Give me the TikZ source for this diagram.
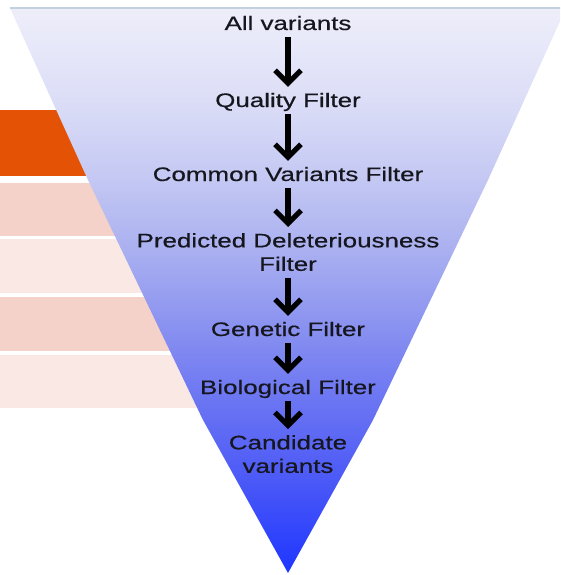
\documentclass[tikz,border=0pt]{standalone}
\usepackage{fontspec}
\setmainfont[FakeStretch=1.33,FakeBold=0.5]{Liberation Sans}
\usetikzlibrary{arrows.meta}
\definecolor{orangebar}{HTML}{E35205}
\definecolor{pinkbar}{HTML}{F4D1C9}
\definecolor{lightbar}{HTML}{F9E8E4}
\definecolor{txt}{HTML}{16161F}
\definecolor{edgeline}{HTML}{C3D0E0}
\definecolor{fb0}{HTML}{1E36FF}
\definecolor{fb1}{HTML}{4F5CF6}
\definecolor{fb2}{HTML}{6E78F2}
\definecolor{fb3}{HTML}{8890F0}
\definecolor{fb4}{HTML}{AAB0F0}
\definecolor{fb5}{HTML}{C5C9F3}
\definecolor{fb6}{HTML}{DCDEF7}
\definecolor{fb7}{HTML}{EEEEFA}
\pgfdeclareverticalshading{funnelshade}{100bp}{color(0bp)=(fb0); color(25bp)=(fb0); color(34bp)=(fb1); color(41bp)=(fb2); color(46.5bp)=(fb3); color(53.6bp)=(fb4); color(60.2bp)=(fb5); color(66.9bp)=(fb6); color(75bp)=(fb7); color(100bp)=(fb7)}
\begin{document}
\begin{tikzpicture}[x=1pt,y=-1pt,
  lbl/.style={font=\fontsize{19.5}{23}\selectfont, text=txt, inner sep=0pt, text height=14pt, text depth=0pt, anchor=base},
  lbltwo/.style={font=\fontsize{19.5}{23.5}\selectfont, text=txt, inner sep=0pt, align=center, anchor=north},
  flow/.style={line width=5.5pt, draw=black, -{Straight Barb[length=13pt,width=26pt,line width=5pt]}, shorten <=7pt, shorten >=6pt}]
\useasboundingbox (0,0) rectangle (560,575);
\clip (0,0) rectangle (560,575);
% left bars
\fill[orangebar] (0,110) rectangle (300,176);
\fill[pinkbar] (0,183) rectangle (300,236);
\fill[lightbar] (0,239) rectangle (300,293);
\fill[pinkbar] (0,297) rectangle (300,351);
\fill[lightbar] (0,355) rectangle (300,408);
% funnel
\shade[shading=funnelshade] (10,8) -- (88,180) -- (203,420) -- (288,573) -- (373,420) -- (488,180) -- (566,8) -- cycle;
\draw[edgeline, line width=2pt] (10,8) -- (566,8);
% labels
\node[lbl] (a) at (288,30) {All variants};
\node[lbl] (b) at (288,107) {Quality Filter};
\node[lbl] (c) at (288,181) {Common Variants Filter};
\node[lbltwo] (d) at (288,233) {Predicted Deleteriousness\\Filter};
\node[lbl] (e) at (288,336) {Genetic Filter};
\node[lbl] (f) at (288,394) {Biological Filter};
\node[lbltwo] (g) at (288,435) {Candidate\\variants};
% arrows
\draw[flow] (a.south) -- (b.north);
\draw[flow] (b.south) -- (c.north);
\draw[flow] (c.south) -- (d.north);
\draw[flow] (d.south) -- (e.north);
\draw[flow] (e.south) -- (f.north);
\draw[flow] (f.south) -- (g.north);
\end{tikzpicture}
\end{document}
